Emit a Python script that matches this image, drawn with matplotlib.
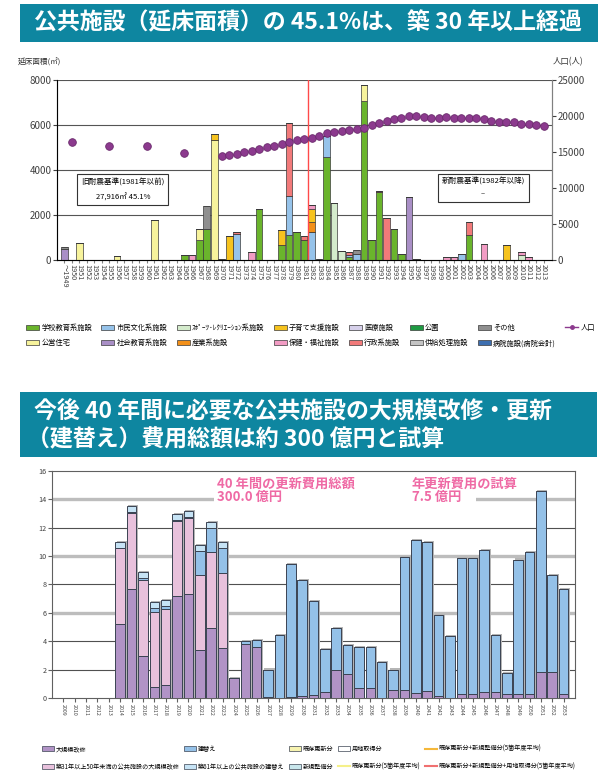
import matplotlib.pyplot as plt
from matplotlib.patches import Rectangle, Patch
from matplotlib.lines import Line2D
import numpy as np

plt.rcParams['font.family'] = ['Noto Sans CJK JP', 'DejaVu Sans']

W, H = 616, 777


def fx(px):
    return px / W


def fy(py):
    return 1 - py / H


# ---------------- 上段データ（延床面積 ㎡, 建築年度別） ----------------
top_year_keys = list(range(1949, 2014))
top_labels = ['～1949'] + [str(y) for y in range(1950, 2014)]

school = {1965: 210, 1967: 890, 1968: 1400, 1975: 2250, 1978: 650, 1979: 1100,
          1980: 1240, 1981: 890, 1984: 4600, 1987: 150, 1989: 7070, 1990: 890,
          1991: 3040, 1993: 1360, 1994: 270, 2003: 1100}
housing = {1951: 740, 1956: 160, 1961: 1800, 1967: 470, 1969: 5330, 1989: 710}
civic = {1972: 1170, 1979: 1760, 1982: 1240, 1984: 920, 1987: 90, 1988: 280, 2002: 270}
social_edu = {1949: 480, 1995: 2815}
sports = {1985: 2550, 1986: 385, 2010: 240}
industry = {1982: 430}
childcare = {1969: 270, 1971: 1080, 1978: 680, 1982: 610, 2008: 650}
welfare = {1966: 210, 1974: 340, 1982: 150, 1996: 40, 2000: 150, 2001: 120,
           2005: 700, 2010: 120, 2011: 150}
medical = {}
admin = {1972: 75, 1979: 3230, 1981: 180, 1987: 100, 1991: 45, 1992: 1880, 2003: 580}
park = {}
supply = {1970: 50, 1983: 45}
other = {1949: 110, 1968: 1000, 1988: 165}
hospital = {}

pop_years = [1950, 1955, 1960, 1965] + list(range(1970, 2014))
pop_values = [16400, 15900, 15800, 14800,
              14450, 14550, 14750, 15000, 15200, 15400, 15650, 15900, 16050, 16400,
              16650, 16800, 17000, 17200, 17600, 17750, 17950, 18050, 18150, 18300,
              18750, 19050, 19350, 19550, 19750, 20050, 20050, 19900, 19750, 19750,
              19800, 19750, 19750, 19750, 19700, 19550, 19350, 19200, 19200, 19100,
              18950, 18900, 18750, 18550]

# 凡例順（列優先）= 積み上げ順
facilities = [
    ('学校教育系施設', '#6ab42c', school),
    ('公営住宅', '#f7f39c', housing),
    ('市民文化系施設', '#96c3ea', civic),
    ('社会教育系施設', '#a98fc6', social_edu),
    ('ｽﾎﾟｰﾂ･ﾚｸﾘｴｰｼｮﾝ系施設', '#d4ebcc', sports),
    ('産業系施設', '#f39019', industry),
    ('子育て支援施設', '#f6c31e', childcare),
    ('保健・福祉施設', '#f29cc4', welfare),
    ('医療施設', '#d6d0ea', medical),
    ('行政系施設', '#f27a7a', admin),
    ('公園', '#1f9a43', park),
    ('供給処理施設', '#c4c4c4', supply),
    ('その他', '#8f8f8f', other),
    ('病院施設(病院会計)', '#3d6fb0', hospital),
]

# ---------------- 下段データ（億円, 年度別） ----------------
bot_years = list(range(2009, 2054))
kaishu = [0, 0, 0, 0, 0, 5.2, 7.7, 2.95, 0.75, 0.9, 7.15, 7.35, 3.35, 4.95, 3.5,
          1.38, 3.8, 3.57, 0.05, 0, 0.05, 0.12, 0.23, 0.42, 2.0, 1.7, 0.68, 0.68,
          0, 0.56, 0.56, 0.33, 0.49, 0.12, 0, 0.28, 0.28, 0.4, 0.4, 0.28, 0.28,
          0.28, 1.83, 1.83, 0.28]
kaishu31 = [0, 0, 0, 0, 0, 5.33, 5.33, 5.33, 5.33, 5.33, 5.33, 5.33, 5.33, 5.33,
            5.33] + [0] * 30
tatekae = [0, 0, 0, 0, 0, 0.05, 0.05, 0.17, 0.23, 0.26, 0.05, 0.05, 1.66, 1.69,
           1.71, 0, 0.21, 0.49, 1.95, 4.44, 9.39, 8.17, 6.62, 3.01, 2.91, 2.02,
           2.89, 2.89, 2.51, 1.44, 9.35, 10.77, 10.47, 5.70, 4.34, 9.56, 9.56,
           10.0, 4.01, 1.46, 9.46, 9.98, 12.75, 6.81, 7.37]
tatekae61 = [0, 0, 0, 0, 0, 0.42, 0.42, 0.40, 0.43, 0.38, 0.42, 0.40, 0.45, 0.42,
             0.42] + [0] * 30

fig = plt.figure(figsize=(W / 100, H / 100), dpi=100)

teal = '#0e86a0'
fig.patches.append(Rectangle((fx(20), fy(42)), fx(578), 38 / H, transform=fig.transFigure,
                             facecolor=teal, edgecolor='none'))
fig.text(fx(34), fy(23), '公共施設（延床面積）の 45.1%は、築 30 年以上経過', color='white',
         fontsize=16.5, fontweight='bold', va='center', ha='left')

fig.patches.append(Rectangle((fx(20), fy(457)), fx(577), 65 / H, transform=fig.transFigure,
                             facecolor=teal, edgecolor='none'))
fig.text(fx(34), fy(411), '今後 40 年間に必要な公共施設の大規模改修・更新', color='white',
         fontsize=16.5, fontweight='bold', va='center', ha='left')
fig.text(fx(27), fy(440), '（建替え）費用総額は約 300 億円と試算', color='white',
         fontsize=16.5, fontweight='bold', va='center', ha='left')

# ---------------- 上段グラフ ----------------
ax1 = fig.add_axes([fx(57), fy(260), 495 / W, 180 / H])
x = np.arange(len(top_year_keys))
bottom = np.zeros(len(x))
handles_top = []
for name, color, d in facilities:
    vals = np.array([d.get(y, 0) for y in top_year_keys], float)
    ax1.bar(x, vals, 0.88, bottom=bottom, color=color, edgecolor='#3a3a3a', lw=0.5, zorder=3)
    bottom += vals
    handles_top.append(Patch(facecolor=color, edgecolor='#3a3a3a', lw=0.5, label=name))

ax1.set_xlim(-1.0, 65.1)
ax1.set_ylim(0, 8000)
ax1.set_yticks(range(0, 8001, 2000))
for v in range(2000, 8001, 2000):
    ax1.axhline(v, color='#555555', lw=0.8, zorder=1)
ax1.set_xticks(x)
ax1.set_xticklabels(top_labels, rotation=-90, fontsize=5.2, color='#404040')
ax1.tick_params(axis='x', length=2, pad=1, color='#808080')
ax1.tick_params(axis='y', labelsize=7, colors='#404040', length=3, pad=1)
ax1.spines['top'].set_visible(False)
for s in ['left', 'right', 'bottom']:
    ax1.spines[s].set_color('#808080')

ax1.axvline(top_year_keys.index(1981) + 0.5, color='#ff4a4a', lw=1, zorder=4)

ax1.text(0.133, 0.39, '旧耐震基準(1981年以前)\n\n27,916㎡ 45.1%', transform=ax1.transAxes,
         ha='center', va='center', fontsize=5.5, linespacing=0.9, zorder=6,
         bbox=dict(boxstyle='square,pad=0.5', facecolor='white', edgecolor='#333333', lw=0.8))
ax1.text(0.861, 0.40, '新耐震基準(1982年以降)\n\n–', transform=ax1.transAxes,
         ha='center', va='center', fontsize=5.5, linespacing=0.7, zorder=6,
         bbox=dict(boxstyle='square,pad=0.5', facecolor='white', edgecolor='#333333', lw=0.8))

ax2 = ax1.twinx()
ax2.set_ylim(0, 25000)
ax2.set_yticks(range(0, 25001, 5000))
ax2.tick_params(axis='y', labelsize=7, colors='#404040', length=3, pad=1)
ax2.spines['top'].set_visible(False)
ax2.spines['right'].set_color('#808080')
pop_x = [top_year_keys.index(y) for y in pop_years]
ax2.plot(pop_x, pop_values, 'o', color='#8c3a8e', mec='#6a2a6c', mew=0.6, ms=5.5, zorder=5)
ax2.set_zorder(ax1.get_zorder() + 1)

fig.text(fx(18), fy(62), '延床面積(㎡)', fontsize=5.5, color='#333333', va='center')
fig.text(fx(553), fy(62), '人口(人)', fontsize=6, color='#333333', va='center')

handles_top.append(Line2D([], [], color='#8c3a8e', marker='o', ms=2.5, lw=1, label='人口'))
fig.legend(handles=handles_top, ncol=8, loc='upper left', bbox_to_anchor=(fx(26), fy(324)),
           frameon=False, fontsize=5.2, handlelength=1.8, handleheight=0.8,
           handletextpad=0.3, columnspacing=1.3, labelspacing=1.0, borderaxespad=0,
           borderpad=0)

# ---------------- 下段グラフ ----------------
ax3 = fig.add_axes([fx(52), fy(698), 523 / W, 227.3 / H])
xb = np.arange(len(bot_years))
layers = [
    ('大規模改修', '#b193c6', kaishu),
    ('築31年以上50年未満の公共施設の大規模改修', '#e8c1dc', kaishu31),
    ('建替え', '#94c1e8', tatekae),
    ('築61年以上の公共施設の建替え', '#c6e3f5', tatekae61),
]
total = np.sum([np.array(v) for _, _, v in layers], axis=0)
ax3.bar(xb + 0.13, np.where(total > 0, total + 0.08, 0), 0.88, color='#b5b5b5', lw=0, zorder=2)
bb = np.zeros(len(xb))
for name, color, vals in layers:
    vals = np.array(vals, float)
    ax3.bar(xb, vals, 0.84, bottom=bb, color=color, edgecolor='#3b4352', lw=0.7, zorder=3)
    bb += vals

ax3.set_xlim(-1, 45)
ax3.set_ylim(0, 16)
ax3.set_yticks(range(0, 17, 2))
for v in (2, 4, 8, 12):
    ax3.axhline(v, color='#505050', lw=0.8, zorder=1)
for v in (6, 10, 14):
    ax3.axhline(v, color='#bdbdbd', lw=2.4, zorder=1)
ax3.set_xticks(xb)
ax3.set_xticklabels([str(y) for y in bot_years], rotation=-90, fontsize=3.8, color='#404040')
ax3.tick_params(axis='x', length=3, pad=1.5, color='#606060')
ax3.tick_params(axis='y', labelsize=5.2, colors='#404040', length=3, pad=1, color='#606060')
for s in ax3.spines.values():
    s.set_color('#606060')

fig.patches.append(Rectangle((fx(214), fy(503)), fx(262), 28 / H, transform=fig.transFigure,
                             facecolor='white', edgecolor='none', zorder=3))
pink = '#ef6aa5'
fig.text(fx(217), fy(477), '40 年間の更新費用総額\n300.0 億円', color=pink, fontsize=9.5,
         fontweight='bold', va='top', ha='left', linespacing=0.95, zorder=4)
fig.text(fx(412), fy(477), '年更新費用の試算\n7.5 億円', color=pink, fontsize=9.5,
         fontweight='bold', va='top', ha='left', linespacing=0.95, zorder=4)

handles_bot = [
    Patch(facecolor='#b193c6', edgecolor='#3b4352', lw=0.5, label='大規模改修'),
    Patch(facecolor='#e8c1dc', edgecolor='#3b4352', lw=0.5, label='築31年以上50年未満の公共施設の大規模改修'),
    Patch(facecolor='#94c1e8', edgecolor='#3b4352', lw=0.5, label='建替え'),
    Patch(facecolor='#c6e3f5', edgecolor='#3b4352', lw=0.5, label='築61年以上の公共施設の建替え'),
    Patch(facecolor='#f7f3b0', edgecolor='#3b4352', lw=0.5, label='既存更新分'),
    Patch(facecolor='#c9e7ec', edgecolor='#3b4352', lw=0.5, label='新規整備分'),
    Patch(facecolor='white', edgecolor='#3b4352', lw=0.5, label='用地取得分'),
    Line2D([], [], color='#f5f08a', lw=1.5, label='既存更新分(5箇年度平均)'),
    Line2D([], [], color='#f5b83a', lw=1.5, label='既存更新分+新規整備分(5箇年度平均)'),
    Line2D([], [], color='#f07070', lw=1.5, label='既存更新分+新規整備分+用地取得分(5箇年度平均)'),
]
fig.legend(handles=handles_bot, ncol=5, loc='upper left', bbox_to_anchor=(fx(42), fy(745)),
           frameon=False, fontsize=4.4, handlelength=1.9, handleheight=0.9,
           handletextpad=0.4, columnspacing=0.7, labelspacing=1.6, borderaxespad=0,
           borderpad=0)

fig.savefig('out.png', dpi=100)
